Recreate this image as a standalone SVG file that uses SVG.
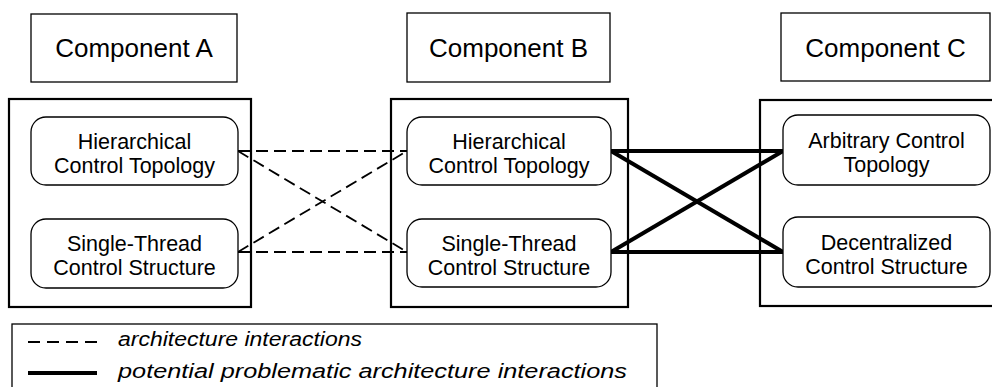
<svg xmlns="http://www.w3.org/2000/svg" width="992" height="387" viewBox="0 0 992 387">
<style>
.title{fill:none;stroke:#000;stroke-width:1.3}
.outer{fill:none;stroke:#000;stroke-width:2.2}
.inner{fill:#fff;stroke:#000;stroke-width:1.3}
.t{font-family:"Liberation Sans",Arial,sans-serif;fill:#000;text-anchor:middle}
.tc{font-size:26px}
.ti{font-size:21.5px}
.lg{font-family:"Liberation Sans",Arial,sans-serif;font-style:italic;font-size:20px;fill:#000}
.dash{stroke:#000;stroke-width:1.8;stroke-dasharray:12 6;fill:none}
.thick{stroke:#000;stroke-width:4;fill:none}
</style>
<rect width="992" height="387" fill="#fff"/>
<g id="componentA">
<rect class="title" x="31" y="14" width="206" height="68"/>
<text class="t tc" x="134" y="57">Component A</text>
<rect class="outer" x="9" y="99" width="242" height="208"/>
</g>
<g id="componentB">
<rect class="title" x="407" y="13" width="203" height="69"/>
<text class="t tc" x="508.5" y="57">Component B</text>
<rect class="outer" x="391" y="99" width="237" height="208"/>
</g>
<g id="componentC">
<rect class="title" x="781" y="13" width="209" height="68"/>
<text class="t tc" x="885.5" y="57">Component C</text>
<rect class="outer" x="760" y="100" width="240" height="206"/>
</g>
<g id="connectors">
<line class="dash" x1="238" y1="151" x2="407" y2="151"/>
<line class="dash" x1="238" y1="252" x2="407" y2="252"/>
<line class="dash" x1="238" y1="151" x2="407" y2="252"/>
<line class="dash" x1="238" y1="252" x2="407" y2="151"/>
<line class="thick" x1="611" y1="151" x2="783" y2="151"/>
<line class="thick" x1="611" y1="252" x2="783" y2="252"/>
<line class="thick" x1="611" y1="151" x2="783" y2="252"/>
<line class="thick" x1="611" y1="252" x2="783" y2="151"/>
</g>
<g id="A-hier">
<rect class="inner" x="31" y="117" width="207" height="68" rx="15"/>
<text class="t ti" x="134.5" y="149">Hierarchical</text>
<text class="t ti" x="134.5" y="173">Control Topology</text>
</g>
<g id="A-single">
<rect class="inner" x="31" y="219" width="207" height="69" rx="15"/>
<text class="t ti" x="134.5" y="251">Single-Thread</text>
<text class="t ti" x="134.5" y="275">Control Structure</text>
</g>
<g id="B-hier">
<rect class="inner" x="407" y="117" width="204" height="68" rx="15"/>
<text class="t ti" x="509" y="149">Hierarchical</text>
<text class="t ti" x="509" y="173">Control Topology</text>
</g>
<g id="B-single">
<rect class="inner" x="407" y="219" width="204" height="68" rx="15"/>
<text class="t ti" x="509" y="251">Single-Thread</text>
<text class="t ti" x="509" y="275">Control Structure</text>
</g>
<g id="C-arb">
<rect class="inner" x="783" y="115" width="207" height="70" rx="15"/>
<text class="t ti" x="886.5" y="148">Arbitrary Control</text>
<text class="t ti" x="886.5" y="172">Topology</text>
</g>
<g id="C-dec">
<rect class="inner" x="783" y="217" width="207" height="70" rx="15"/>
<text class="t ti" x="886.5" y="250">Decentralized</text>
<text class="t ti" x="886.5" y="274">Control Structure</text>
</g>
<g id="legend">
<rect class="title" x="12" y="324" width="645" height="80"/>
<line class="dash" x1="28" y1="342" x2="97" y2="342" style="stroke-dasharray:12 7"/>
<line class="thick" x1="28" y1="373" x2="97" y2="373"/>
<text class="lg" x="118" y="346" textLength="244" lengthAdjust="spacingAndGlyphs">architecture interactions</text>
<text class="lg" x="118" y="378" textLength="509" lengthAdjust="spacingAndGlyphs">potential problematic architecture interactions</text>
</g>
</svg>
